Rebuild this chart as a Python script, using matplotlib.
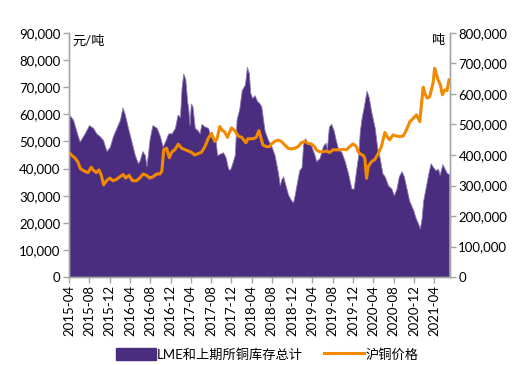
import matplotlib
matplotlib.use("Agg")
import matplotlib.pyplot as plt
import matplotlib.dates as mdates
from matplotlib.ticker import FuncFormatter, MultipleLocator
from matplotlib.patches import Patch
from matplotlib.lines import Line2D
import pandas as pd

plt.rcParams['font.family'] = ['Lato', 'Noto Sans CJK SC', 'DejaVu Sans']

# LME + SHFE copper inventory (tons)
inv_dates = [
    "2015-04-01", "2015-04-25", "2015-05-24", "2015-06-04", "2015-06-14", "2015-07-04", "2015-07-30",
    "2015-08-23", "2015-09-12", "2015-10-02", "2015-10-22", "2015-11-12", "2015-12-02", "2015-12-21",
    "2016-01-11", "2016-02-01", "2016-02-16", "2016-03-01", "2016-03-20", "2016-04-10", "2016-04-30",
    "2016-05-19", "2016-05-29", "2016-06-15", "2016-06-29", "2016-07-09", "2016-07-19", "2016-07-28",
    "2016-08-14", "2016-09-08", "2016-09-28", "2016-10-14", "2016-10-28", "2016-11-17", "2016-12-07",
    "2016-12-27", "2017-01-12", "2017-01-26", "2017-02-05", "2017-02-15", "2017-02-27", "2017-03-10",
    "2017-03-17", "2017-03-25", "2017-04-01", "2017-04-11", "2017-04-25", "2017-05-14", "2017-05-24",
    "2017-06-04", "2017-06-24", "2017-07-14", "2017-07-27", "2017-08-13", "2017-08-29", "2017-09-06",
    "2017-09-22", "2017-10-12", "2017-10-28", "2017-11-11", "2017-11-21", "2017-12-01", "2017-12-11",
    "2017-12-21", "2018-01-01", "2018-01-17", "2018-02-01", "2018-02-20", "2018-03-04", "2018-03-16",
    "2018-03-24", "2018-04-05", "2018-04-19", "2018-05-03", "2018-05-19", "2018-05-29", "2018-06-08",
    "2018-06-18", "2018-07-08", "2018-07-28", "2018-08-17", "2018-09-07", "2018-09-17", "2018-09-27",
    "2018-10-07", "2018-10-17", "2018-11-06", "2018-11-26", "2018-12-06", "2018-12-16", "2018-12-26",
    "2019-01-12", "2019-01-26", "2019-02-05", "2019-02-15", "2019-03-05", "2019-03-25", "2019-04-14",
    "2019-04-24", "2019-05-14", "2019-06-04", "2019-06-19", "2019-06-27", "2019-07-09", "2019-07-23",
    "2019-08-07", "2019-08-19", "2019-09-02", "2019-09-22", "2019-10-12", "2019-11-01", "2019-11-21",
    "2019-12-05", "2019-12-17", "2020-01-01", "2020-01-11", "2020-01-21", "2020-02-04", "2020-02-20",
    "2020-03-04", "2020-03-20", "2020-04-09", "2020-04-25", "2020-05-09", "2020-05-25", "2020-06-09",
    "2020-06-28", "2020-07-18", "2020-08-02", "2020-08-18", "2020-09-01", "2020-09-17", "2020-10-01",
    "2020-10-17", "2020-11-02", "2020-11-26", "2020-12-10", "2020-12-22", "2021-01-05", "2021-01-15",
    "2021-01-25", "2021-02-11", "2021-02-25", "2021-03-11", "2021-03-25", "2021-04-10", "2021-04-24",
    "2021-05-04", "2021-05-20", "2021-06-03", "2021-06-17", "2021-06-29",
]
inv_values = [
    533000, 516000, 462000, 444000, 453000, 471000, 498000,
    489000, 471000, 462000, 449000, 413000, 427000, 462000,
    489000, 516000, 556000, 533000, 489000, 444000, 400000,
    373000, 382000, 413000, 400000, 364000, 409000, 453000,
    498000, 489000, 462000, 427000, 444000, 471000, 471000,
    489000, 533000, 524000, 622000, 667000, 649000, 578000,
    551000, 498000, 569000, 560000, 489000, 480000, 471000,
    502000, 493000, 489000, 462000, 453000, 444000, 400000,
    404000, 409000, 391000, 356000, 351000, 364000, 382000,
    400000, 516000, 551000, 613000, 631000, 689000, 667000,
    604000, 587000, 596000, 578000, 569000, 560000, 520000,
    480000, 450000, 430000, 400000, 340000, 300000, 320000,
    330000, 310000, 270000, 250000, 245000, 270000, 300000,
    350000, 360000, 440000, 455000, 440000, 430000, 400000,
    380000, 390000, 430000, 440000, 420000, 493000, 502000,
    480000, 450000, 420000, 410000, 380000, 340000, 290000,
    290000, 340000, 400000, 480000, 520000, 560000, 611000,
    590000, 540000, 490000, 420000, 390000, 340000, 329000,
    300000, 290000, 268000, 290000, 330000, 347000, 330000,
    290000, 250000, 220000, 195000, 180000, 159000, 190000,
    250000, 300000, 340000, 373000, 360000, 350000, 355000,
    335000, 370000, 355000, 340000, 338000,
]

# SHFE copper price (yuan / ton)
price_dates = [
    "2015-04-01", "2015-04-15", "2015-05-05", "2015-05-24", "2015-06-08", "2015-07-04", "2015-07-24",
    "2015-08-13", "2015-08-23", "2015-09-12", "2015-09-28", "2015-10-12", "2015-10-26", "2015-11-12",
    "2015-12-02", "2015-12-21", "2016-01-11", "2016-02-01", "2016-02-20", "2016-03-06", "2016-03-26",
    "2016-04-16", "2016-05-10", "2016-05-29", "2016-06-19", "2016-07-09", "2016-07-28", "2016-08-18",
    "2016-09-08", "2016-09-28", "2016-10-09", "2016-10-21", "2016-11-07", "2016-11-23", "2016-12-07",
    "2016-12-27", "2017-01-16", "2017-02-05", "2017-02-25", "2017-03-15", "2017-04-05", "2017-04-25",
    "2017-05-14", "2017-06-04", "2017-06-24", "2017-07-14", "2017-08-03", "2017-08-23", "2017-09-06",
    "2017-09-22", "2017-10-08", "2017-10-22", "2017-11-07", "2017-12-01", "2017-12-21", "2018-01-11",
    "2018-02-01", "2018-02-26", "2018-03-10", "2018-04-09", "2018-04-29", "2018-05-15", "2018-06-08",
    "2018-06-28", "2018-07-18", "2018-07-28", "2018-08-17", "2018-09-07", "2018-09-27", "2018-10-17",
    "2018-11-06", "2018-11-26", "2018-12-16", "2019-01-05", "2019-01-26", "2019-02-15", "2019-03-05",
    "2019-03-25", "2019-04-14", "2019-04-24", "2019-05-14", "2019-06-04", "2019-06-23", "2019-07-13",
    "2019-08-02", "2019-08-22", "2019-09-12", "2019-10-02", "2019-10-22", "2019-11-11", "2019-12-01",
    "2019-12-21", "2020-01-01", "2020-01-15", "2020-01-31", "2020-02-10", "2020-02-20", "2020-03-01",
    "2020-03-20", "2020-04-09", "2020-04-29", "2020-05-19", "2020-06-09", "2020-06-23", "2020-07-08",
    "2020-07-28", "2020-08-18", "2020-09-07", "2020-09-27", "2020-10-17", "2020-11-06", "2020-11-26",
    "2020-12-16", "2021-01-05", "2021-01-15", "2021-01-25", "2021-02-05", "2021-02-19", "2021-03-05",
    "2021-03-25", "2021-04-04", "2021-04-14", "2021-04-24", "2021-05-08", "2021-05-20", "2021-06-03",
    "2021-06-17", "2021-06-29",
]
price_values = [
    46000, 45000, 44000, 42500, 40000, 39000, 38500,
    40500, 39500, 38500, 39500, 37500, 34000, 35500,
    36500, 35500, 36000, 37000, 37800, 36500, 37500,
    35500, 35500, 36500, 38000, 37500, 36500, 37000,
    38000, 38000, 39000, 47000, 47500, 44000, 46000,
    47000, 49000, 47500, 47000, 46500, 46000, 45000,
    45500, 46000, 48000, 51000, 53000, 50000, 51000,
    55500, 54000, 53500, 51500, 55000, 54000, 52000,
    51500, 49500, 51000, 51000, 51500, 54000, 48700,
    48100, 48100, 49000, 50000, 50500, 50000, 48700,
    47500, 47200, 47500, 48100, 49600, 50000, 49300,
    49100, 48100, 46900, 46200, 46200, 46500, 45900,
    46900, 46900, 46900, 47100, 46900, 48100, 49100,
    48100, 46200, 45300, 44900, 43700, 36400, 40700,
    42500, 43300, 45400, 48100, 53300, 51800, 50600,
    52400, 52000, 51800, 52000, 54300, 57300, 58500,
    59800, 57300, 64000, 70000, 67500, 66000, 66500,
    71500, 77000, 75000, 72700, 71000, 67200, 69000,
    68800, 72700,
]

series_names = ["LME和上期所铜库存总计", "沪铜价格"]
left_unit = "元/吨"
right_unit = "吨"
tick_months = pd.date_range("2015-04-01", "2021-04-01", freq="4MS")
tick_labels = [d.strftime("%Y-%m") for d in tick_months]

purple = "#4B2D7F"
orange = "#F28A00"
axis_grey = "#A6A6A6"

fig = plt.figure(figsize=(5.19, 3.65), dpi=100)
ax_inv = fig.add_axes([69 / 519, 1 - 277 / 365, (450 - 69) / 519, (277 - 33) / 365])
ax_p = ax_inv.twinx()

inv_x = pd.to_datetime(inv_dates)
price_x = pd.to_datetime(price_dates)

ax_inv.fill_between(inv_x, 0, inv_values, color=purple, linewidth=0.6,
                    edgecolor="#8C7BB0")
ax_p.plot(price_x, price_values, color=orange, linewidth=2.2)

ax_inv.set_ylim(0, 800000)
ax_p.set_ylim(0, 90000)
ax_inv.set_xlim(pd.Timestamp("2015-04-01"), pd.Timestamp("2021-07-05"))

# inventory on right, price on left
ax_inv.yaxis.tick_right()
ax_p.yaxis.tick_left()
ax_inv.yaxis.set_major_locator(MultipleLocator(100000))
ax_p.yaxis.set_major_locator(MultipleLocator(10000))
fmt = FuncFormatter(lambda v, p: f"{int(round(v)):,}")
ax_inv.yaxis.set_major_formatter(fmt)
ax_p.yaxis.set_major_formatter(fmt)

ax_inv.set_xticks(tick_months)
ax_inv.set_xticklabels(tick_labels, rotation=90)

for a in (ax_inv, ax_p):
    a.spines["top"].set_visible(False)
    for s in ("left", "right", "bottom"):
        a.spines[s].set_color(axis_grey)
        a.spines[s].set_linewidth(1.0)
    a.tick_params(axis="both", colors=axis_grey, labelcolor="black", labelsize=9.5,
                  length=4, width=1.0, direction="out")
ax_p.tick_params(axis="y", pad=2)
ax_inv.tick_params(axis="y", pad=2)
ax_inv.tick_params(axis="x", pad=2)

ax_p.text(0.01, 0.995, left_unit, transform=ax_p.transAxes, ha="left", va="top", fontsize=9.5)
ax_p.text(0.985, 0.995, right_unit, transform=ax_p.transAxes, ha="right", va="top", fontsize=9.5)

handles = [Patch(facecolor=purple, edgecolor=purple),
           Line2D([0], [0], color=orange, linewidth=2.2)]
fig.legend(handles, series_names, loc="lower center", bbox_to_anchor=(0.515, -0.02), ncol=2,
           frameon=False, fontsize=9.5, handlelength=3.0, handleheight=1.0,
           columnspacing=1.6, handletextpad=0.1)

fig.savefig("out.png", dpi=100)
